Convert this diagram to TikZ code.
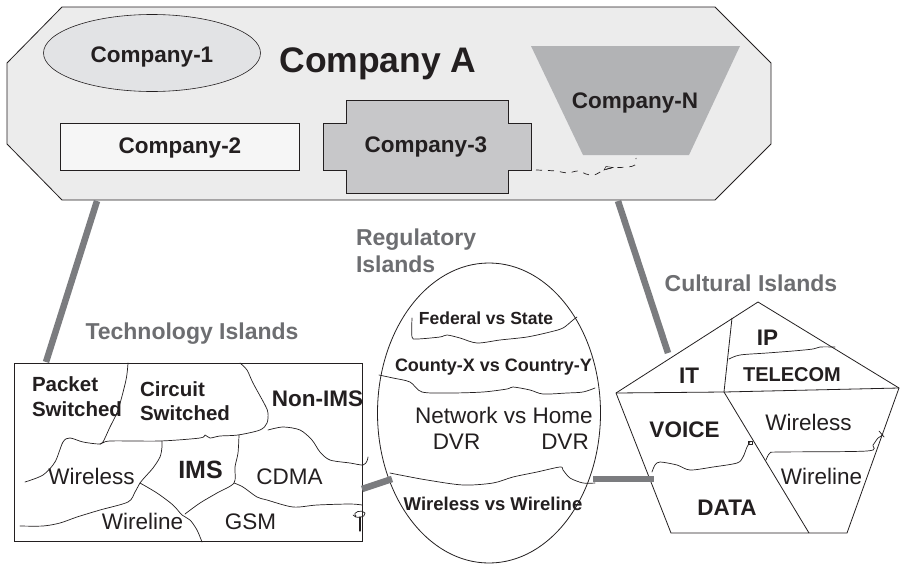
\documentclass[tikz,border=0pt]{standalone}
\usepackage{fontspec}
\setmainfont{Liberation Sans}
\usetikzlibrary{shapes.geometric}

\definecolor{ink}{HTML}{231F20}
\definecolor{titlegray}{HTML}{6D6E71}
\definecolor{linkgray}{HTML}{7B7C7F}
\definecolor{groupfill}{HTML}{ECECEC}
\definecolor{coonefill}{HTML}{E2E3E5}
\definecolor{cotwofill}{HTML}{F6F6F6}
\definecolor{cothreefill}{HTML}{C7C7C9}
\definecolor{confill}{HTML}{B2B3B5}

\newcommand\fsz[2]{\fontsize{#1}{#2}\selectfont}
\newcommand\twolines[2]{\begin{tabular}[t]{@{}l@{}}#1\\#2\end{tabular}}

\begin{document}
\begin{tikzpicture}[x=1pt,y=-1pt,
  every node/.style={text=ink, inner sep=0pt, outer sep=0pt},
  lbl/.style={font=\fsz{22.5}{25}\bfseries, anchor=base},
  plaintxt/.style={font=\fsz{22.5}{25}, anchor=base},
  islandtitle/.style={font=\fsz{23}{27}\bfseries, text=titlegray},
  outline/.style={draw=ink, line width=0.8pt},
  seam/.style={draw=ink, line width=0.7pt, line join=round, line cap=round},
  link/.style={draw=linkgray, line width=6.5pt},
]
\useasboundingbox (0,0) rectangle (900,565);
\fill[white] (0,0) rectangle (900,565);

% ---------- Company A group ----------
\draw[outline, fill=groupfill] (62,7) -- (715,7) -- (771,63) -- (771,144)
  -- (715,200) -- (62,200) -- (7,144) -- (7,63) -- cycle;

\node[ellipse, outline, line width=0.6pt, fill=coonefill,
      minimum width=217pt, minimum height=77pt] (co1) at (152,53) {};
\node[lbl] (co1txt) at (152,62) {Company-1};

\node[font=\fsz{35.5}{40}\bfseries, anchor=base] (coA) at (378,72) {Company A};

\node[rectangle, outline, line width=0.6pt, fill=cotwofill,
      minimum width=239pt, minimum height=47pt] (co2) at (179.5,146.5) {};
\node[lbl] (co2txt) at (180,153) {Company-2};

\draw[outline, fill=cothreefill] (346,100) -- (508,100) -- (508,123) -- (531,123)
  -- (531,170) -- (508,170) -- (508,193) -- (346,193) -- (346,170) -- (323,170)
  -- (323,123) -- (346,123) -- cycle;
\node[lbl] (co3txt) at (426,152) {Company-3};

\fill[confill] (531,46) -- (740,46) -- (689,155) -- (583,155) -- cycle;
\node[lbl] (coNtxt) at (635,108) {Company-N};

% dashed link between Company-3 and Company-N
\draw[ink, line width=0.7pt, dash pattern=on 6pt off 6pt]
  plot[smooth, tension=0.6] coordinates {(536,170) (556,171) (567,173) (578,171)
  (586,174) (594,175) (604,170) (612,168) (627,167) (635,165) (636,158)};
\draw[ink, line width=0.5pt] (604,170) -- (613,167.5) -- (606,166.5) -- cycle;

% ---------- Technology Islands ----------
\node[islandtitle, anchor=base] (techtitle) at (192,339) {Technology Islands};
\node[rectangle, outline, minimum width=348pt, minimum height=178pt,
      anchor=north west] (tech) at (14,363) {};

\draw[seam] plot[smooth, tension=0.5] coordinates {(128,363) (126,380) (118,410)
  (110,427) (103,442) (100,444)};
\draw[seam] plot[smooth, tension=0.5] coordinates {(25,482) (43,475) (55,462)
  (63,442) (70,438) (83,442) (100,444) (110,441) (160,441) (200,438) (205,435)
  (210,438) (220,436) (238,435) (260,430) (267,423) (268,413) (265,405) (253,383)
  (247,370) (240,363)};
\draw[seam] plot[smooth, tension=0.5] coordinates {(162,441) (162,447) (160,457)
  (153,468) (145,477) (140,483) (135,492) (128,502) (100,510) (77,517) (60,523)
  (43,526) (20,526)};
\draw[seam] plot[smooth, tension=0.5] coordinates {(140,483) (157,493) (173,505)
  (182,515) (190,520) (197,530) (202,542)};
\draw[seam] plot[smooth, tension=0.5] coordinates {(239,435) (238,453) (235,467)
  (234,483) (217,493) (200,503) (185,514)};
\draw[seam] plot[smooth, tension=0.5] coordinates {(234,483) (243,487) (257,497)
  (267,500) (293,507) (317,505) (350,504) (362,505)};
\draw[seam] plot[smooth, tension=0.5] coordinates {(268,430) (283,427) (300,430)
  (312,440) (320,452) (330,460) (350,463) (363,465) (367,461) (368,457)};
\draw[seam] (356,516) .. controls (351,512) and (363,509) .. (365,513)
  .. controls (366,518) and (355,519) .. (353,515);
\draw[seam, line width=1.2pt] (360,517) -- (360,531);

\node[font=\fsz{20.5}{25}\bfseries, anchor=base west] (packet) at (32,391)
  {\twolines{Packet}{Switched}};
\node[font=\fsz{20.5}{24.7}\bfseries, anchor=base west] (circuit) at (140,396)
  {\twolines{Circuit}{Switched}};
\node[lbl] (nonims) at (317.5,406) {Non-IMS};
\node[plaintxt] (techwl) at (91.5,484) {Wireless};
\node[font=\fsz{25}{28}\bfseries, anchor=base] (ims) at (200.5,478) {IMS};
\node[plaintxt] (cdma) at (289.5,484) {CDMA};
\node[plaintxt] (techwire) at (142.5,529) {Wireline};
\node[plaintxt] (gsm) at (250.5,529) {GSM};

% ---------- Regulatory Islands ----------
\node[islandtitle, font=\fsz{23}{27}\bfseries, anchor=base west] (regtitle)
  at (356,245) {\twolines{Regulatory}{Islands}};
\node[ellipse, outline, minimum width=223pt, minimum height=300pt] (reg)
  at (489,413) {};

\draw[seam] plot[smooth, tension=0.5] coordinates {(412,318) (412,337) (417,339)
  (440,337) (447,335) (460,338) (477,343) (500,340) (527,337) (550,332) (563,328)
  (573,320) (577,317)};
\draw[seam] plot[smooth, tension=0.5] coordinates {(379,375) (393,378) (410,382)
  (422,392) (450,393) (483,392) (507,389) (513,387) (530,390) (543,394) (567,393)
  (583,392) (595,388)};
\draw[seam] plot[smooth, tension=0.5] coordinates {(390,473) (400,475) (427,480)
  (463,485) (493,483) (513,477) (537,472) (560,467) (563,470) (570,478) (583,483)
  (595,483)};

\node[font=\fsz{17.5}{20}\bfseries, anchor=base] (fed) at (486,324) {Federal vs State};
\node[font=\fsz{18}{20}\bfseries, anchor=base] (county) at (493.5,371) {County-X vs Country-Y};
\node[plaintxt] (network) at (504,423) {Network vs Home};
\node[plaintxt] (dvrone) at (456.5,449) {DVR};
\node[plaintxt] (dvrtwo) at (565,449) {DVR};
\node[font=\fsz{18.5}{20}\bfseries, anchor=base] (wvw) at (493,510) {Wireless vs Wireline};

% ---------- Cultural Islands ----------
\node[islandtitle, anchor=base] (culttitle) at (751,291) {Cultural Islands};
\draw[outline] (758,302) -- (899,388) -- (847,533) -- (671,533) -- (616,393) -- cycle;
\draw[outline] (616,393) -- (724,392) -- (899,388);
\draw[outline] (732,318) -- (724,392) -- (809,533);

\draw[seam] plot[smooth, tension=0.5] coordinates {(729,359) (740,355) (767,353)
  (793,351) (813,349) (820,347) (835,347)};
\draw[seam] plot[smooth, tension=0.5] coordinates {(652,472) (655,465) (660,462)
  (677,465) (690,470) (713,467) (737,463) (743,457) (747,447) (750,442)};
\draw[seam] (748,441) rectangle (752,444);
\draw[seam] plot[smooth, tension=0.5] coordinates {(766,460) (770,453) (780,452)
  (867,451) (873,445) (878,438) (883,435)};
\draw[seam] (879,431) -- (884,437);

\node[lbl] (ip) at (767.5,345) {IP};
\node[lbl] (it) at (689,383) {IT};
\node[font=\fsz{20}{22}\bfseries, anchor=base] (telecom) at (792,381) {TELECOM};
\node[lbl] (voice) at (684.5,437) {VOICE};
\node[plaintxt] (cultwl) at (808.5,430) {Wireless};
\node[plaintxt] (cultwire) at (821.5,484) {Wireline};
\node[lbl] (data) at (727,515) {DATA};

% ---------- connectors ----------
\coordinate (groupSW) at (97,201);
\coordinate (techNW) at (46,362);
\coordinate (groupSE) at (618,201);
\coordinate (cultW) at (668,353);
\coordinate (techE) at (362,489);
\coordinate (regW) at (392,479);
\coordinate (regE) at (593,479);
\coordinate (cultSW) at (654,479);
\draw[link] (groupSW) -- (techNW);
\draw[link] (groupSE) -- (cultW);
\draw[link] (techE) -- (regW);
\draw[link] (regE) -- (cultSW);
\end{tikzpicture}
\end{document}
